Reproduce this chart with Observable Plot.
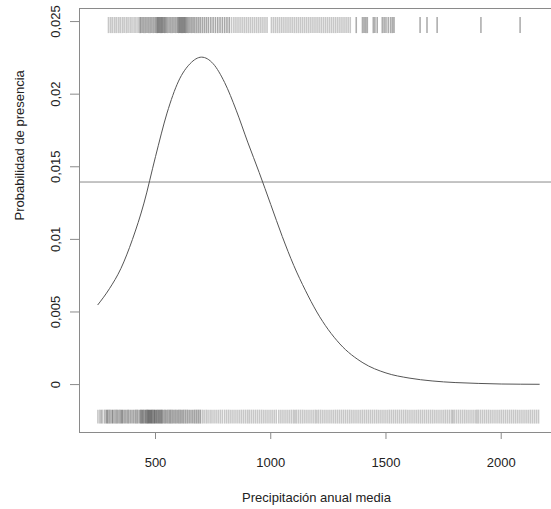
<!DOCTYPE html>
<html><head><meta charset="utf-8">
<script src="https://cdn.jsdelivr.net/npm/d3@7"></script>
<script src="https://cdn.jsdelivr.net/npm/@observablehq/plot@0.6"></script>
<style>body{margin:0;background:#fff;overflow:hidden}</style>
</head><body><div id="chart"></div>
<script>
// fitted probability curve
const curveX = [250, 300, 350, 400, 450, 500, 550, 600, 650, 700, 750, 800, 850, 900, 950, 1000, 1050, 1100, 1150, 1200, 1300, 1400, 1500, 1600, 1700, 1800, 1900, 2000, 2165];
const curveP = [0.0055, 0.0066, 0.0080, 0.0100, 0.0125, 0.0157, 0.0187, 0.0209, 0.0221, 0.02255, 0.0221, 0.0208, 0.0189, 0.0167, 0.0146, 0.0124, 0.0102, 0.0082, 0.0065, 0.0050, 0.0028, 0.0015, 0.0008, 0.00045, 0.00025, 0.00014, 0.00008, 0.00004, 0.00002];
const prevalence = 0.01395;

// presences (top rug)
const topRugDark = [509, 515, 521, 527, 533, 540, 600, 606, 612, 618, 624, 630];
const topRugMid = [435, 442, 449, 456, 463, 470, 477, 484, 491, 498, 504, 546, 552, 559, 566, 573, 580, 587, 594, 636, 642, 649, 656, 663, 670, 678, 686, 694, 703, 712, 721, 730, 740, 750, 760, 770, 780, 790, 800, 810, 820];
const topRugLight = [296, 305, 313, 322, 330, 339, 347, 356, 364, 373, 381, 390, 398, 407, 415, 424, 431, 830, 840, 849, 858, 867, 876, 885, 894, 903, 912, 921, 930, 939, 948, 957, 966, 975, 984, 1003, 1012, 1021, 1030, 1039, 1048, 1057, 1066, 1075, 1084, 1093, 1102, 1111, 1120, 1129, 1138, 1147, 1156, 1165, 1174, 1183, 1192, 1201, 1210, 1219, 1228, 1237, 1246, 1255, 1264, 1273, 1282, 1291, 1300, 1309, 1318, 1327, 1336, 1345];
const topRugSparse = [1371, 1398, 1405, 1412, 1419, 1445, 1452, 1462, 1484, 1492, 1500, 1510, 1520, 1528, 1535, 1648, 1678, 1722, 1912, 2082];

// absences (bottom rug)
const bottomRugDark = [436, 442, 448, 455, 461, 466, 471, 476, 481, 486, 492, 497, 503, 509, 515, 521, 527];
const bottomRugMid = [289, 312, 355, 382, 390, 398, 406, 414, 421, 429, 533, 540, 546, 553, 560, 566, 573, 580, 587, 594, 601, 608, 615, 622, 630, 638, 646, 654, 662, 670, 678, 686, 694];
const bottomRugLight = [250, 258, 264, 269, 278, 283, 292, 297, 301, 305, 316, 321, 326, 330, 334, 338, 343, 347, 351, 359, 364, 368, 372, 377, 703, 711, 720, 728, 737, 745, 754, 763, 772, 781, 790, 800, 809, 818, 827, 836, 845, 854, 863, 872, 881, 890, 899, 907, 916, 925, 934, 943, 952, 961, 970, 979, 988, 997, 1006, 1015, 1024, 1035, 1044, 1053, 1062, 1071, 1080, 1089, 1098, 1105, 1112, 1121, 1130, 1139, 1148, 1157, 1166, 1175, 1184, 1193, 1200, 1208, 1217, 1226, 1235, 1244, 1253, 1262, 1271, 1280, 1289, 1298, 1307, 1316, 1325, 1334, 1343, 1352, 1361, 1370, 1379, 1388, 1397, 1406, 1415, 1424, 1433, 1442, 1451, 1460, 1469, 1478, 1487, 1496, 1505, 1514, 1523, 1532, 1541, 1550, 1559, 1568, 1577, 1586, 1595, 1604, 1613, 1622, 1631, 1640, 1649, 1658, 1667, 1676, 1685, 1694, 1703, 1712, 1721, 1730, 1739, 1748, 1757, 1766, 1775, 1784, 1790, 1797, 1806, 1815, 1824, 1833, 1842, 1851, 1860, 1869, 1878, 1887, 1894, 1901, 1910, 1919, 1928, 1937, 1946, 1955, 1964, 1973, 1982, 1991, 2000, 2009, 2018, 2027, 2036, 2045, 2054, 2063, 2072, 2081, 2090, 2099, 2108, 2117, 2126, 2135, 2144, 2153, 2162];

const topRugBand = [0.02417, 0.02528];
const bottomRugBand = [-0.00272, -0.00176];

const xTicks = [500, 1000, 1500, 2000];
const xTickLabels = ["500", "1000", "1500", "2000"];
const yTicks = [0, 0.005, 0.01, 0.015, 0.02, 0.025];
const yTickLabels = ["0", "0,005", "0,01", "0,015", "0,02", "0,025"];
const xTitle = "Precipitación anual media";
const yTitle = "Probabilidad de presencia";

const curve = curveX.map((x, i) => ({x, p: curveP[i]}));
const FONT = "'Liberation Sans', Arial, sans-serif";
const TXT = "#222";
const rug = (xs, band, op) => Plot.ruleX(xs, {x: d => d, y1: band[0], y2: band[1], stroke: "#000", strokeOpacity: op, strokeWidth: 1.6});

const chart = Plot.plot({
  width: 551,
  height: 509,
  marginLeft: 79,
  marginRight: -2,
  marginTop: 8,
  marginBottom: 77,
  style: {fontFamily: FONT, fontSize: "13px", background: "#fff", color: TXT, overflow: "hidden"},
  x: {domain: [170.2, 2226.9], axis: null},
  y: {domain: [-0.0033, 0.0259], axis: null},
  marks: [
    rug(bottomRugLight, bottomRugBand, 0.22),
    rug(bottomRugMid, bottomRugBand, 0.36),
    rug(bottomRugDark, bottomRugBand, 0.45),
    rug(topRugLight, topRugBand, 0.22),
    rug(topRugMid, topRugBand, 0.34),
    rug(topRugDark, topRugBand, 0.45),
    rug(topRugSparse, topRugBand, 0.32),
    Plot.ruleY([prevalence], {stroke: "#8a8a8a", strokeWidth: 1}),
    Plot.line(curve, {x: "x", y: "p", stroke: "#555", strokeWidth: 1, curve: "monotone-x"}),
    Plot.frame({stroke: "#8a8a8a"}),
    Plot.axisX(xTicks, {tickSize: 7, tickFormat: () => "", stroke: "#8a8a8a", label: null}),
    Plot.axisY(yTicks, {tickSize: 9, tickFormat: () => "", stroke: "#8a8a8a", label: null}),
    Plot.text(xTicks, {x: d => d, text: (d, i) => xTickLabels[i], frameAnchor: "bottom", dy: 30, lineAnchor: "middle", fontSize: 13, fill: TXT}),
    Plot.text(yTicks, {y: d => d, text: (d, i) => yTickLabels[i], frameAnchor: "left", dx: -24, rotate: -90, lineAnchor: "middle", textAnchor: "middle", fontSize: 13, fill: TXT}),
    Plot.text([xTitle], {text: d => d, frameAnchor: "bottom", dy: 65, lineAnchor: "middle", fontSize: 13, fill: TXT}),
    Plot.text([yTitle], {text: d => d, frameAnchor: "left", dx: -60, rotate: -90, lineAnchor: "middle", fontSize: 13, fill: TXT})
  ]
});
document.getElementById("chart").appendChild(chart);
</script>
</body></html>
